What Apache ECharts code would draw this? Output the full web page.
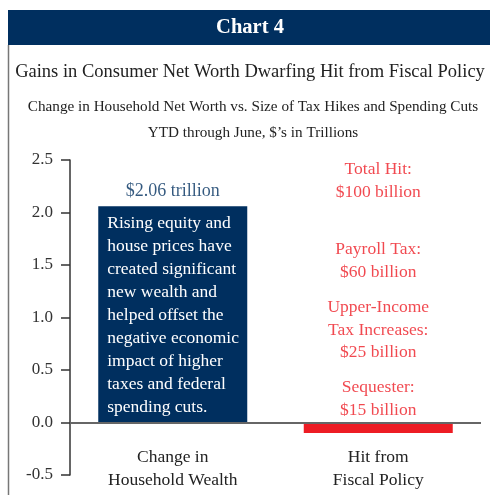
<!DOCTYPE html>
<html>
<head>
<meta charset="utf-8">
<script src="https://cdn.jsdelivr.net/npm/echarts@6/dist/echarts.min.js"></script>
<style>html,body{margin:0;padding:0;background:#fff;}#chart{width:490px;height:495px;}</style>
</head>
<body>
<div id="chart"></div>
<script>
const categories = ["Change in\nHousehold Wealth", "Hit from\nFiscal Policy"];
const values = [2.06, -0.1];
const valueLabel = "$2.06 trillion";
const barNote = "Rising equity and\nhouse prices have\ncreated significant\nnew wealth and\nhelped offset the\nnegative economic\nimpact of higher\ntaxes and federal\nspending cuts.";
const hitNotes = ["Total Hit:\n$100 billion", "Payroll Tax:\n$60 billion", "Upper-Income\nTax Increases:\n$25 billion", "Sequester:\n$15 billion"];
const hitNoteAnchors = [2.30, 1.54, 0.88, 0.225];
const yTicks = [-0.5, 0, 0.5, 1.0, 1.5, 2.0, 2.5];

const FONT = "'Liberation Serif', 'DejaVu Serif', serif";
const NAVY = "#002f5f";
const RED = "#ed1c24";

const chart = echarts.init(document.getElementById('chart'), null, {renderer: 'canvas'});
chart.setOption({
  animation: false,
  backgroundColor: '#fff',
  textStyle: {fontFamily: FONT},
  graphic: [
    {type: 'rect', shape: {x: 8, y: 10, width: 482, height: 35}, style: {fill: NAVY}},
    {type: 'text', style: {text: 'Chart 4', x: 250, y: 28, align: 'center', verticalAlign: 'middle', fill: '#fff', font: "bold 20.5px " + FONT}},
    {type: 'line', shape: {x1: 8.5, y1: 45, x2: 8.5, y2: 495}, style: {stroke: '#777', lineWidth: 1.5}}
  ],
  title: [
    {text: 'Gains in Consumer Net Worth Dwarfing Hit from Fiscal Policy', left: 245, textAlign: 'center', top: 58,
     textStyle: {fontFamily: FONT, fontSize: 18.5, fontWeight: 'normal', color: '#222'}},
    {text: 'Change in Household Net Worth vs. Size of Tax Hikes and Spending Cuts\nYTD through June, $\u2019s in Trillions', left: 248, textAlign: 'center', top: 89,
     textStyle: {fontFamily: FONT, fontSize: 15.2, fontWeight: 'normal', color: '#222', lineHeight: 26}}
  ],
  grid: {left: 70, right: 9, top: 160, bottom: 20, containLabel: false, outerBoundsMode: 'none'},
  xAxis: {
    type: 'category', data: categories,
    axisLine: {show: false, onZero: false},
    axisTick: {show: false},
    axisLabel: {fontFamily: FONT, fontSize: 17.5, color: '#222', lineHeight: 23, margin: -29, interval: 0}
  },
  yAxis: {
    type: 'value', min: yTicks[0], max: yTicks[yTicks.length - 1], interval: 0.5,
    axisLine: {show: true, onZero: false, lineStyle: {color: '#333', width: 1.5}},
    axisTick: {show: true, length: 9, lineStyle: {color: '#333', width: 1.5}},
    splitLine: {show: false},
    axisLabel: {fontFamily: FONT, fontSize: 17, color: '#333', margin: 17, formatter: v => v.toFixed(1)}
  },
  series: [
    {
      type: 'bar', barWidth: 149,
      data: values.map((v, i) => ({value: v, itemStyle: {color: i === 0 ? NAVY : RED},
        label: i === 0 ? {show: true, position: [9, 6], align: 'left', verticalAlign: 'top', formatter: barNote,
          color: '#fff', fontFamily: FONT, fontSize: 17.5, lineHeight: 23} : {show: false}})),
      markLine: {silent: true, symbol: 'none', label: {show: false},
        lineStyle: {color: '#666', width: 2, type: 'solid'}, data: [{yAxis: 0}]}
    },
    {
      type: 'scatter', symbolSize: 1, itemStyle: {color: 'transparent'}, silent: true,
      data: [[0, values[0]]],
      label: {show: true, position: 'top', distance: 5, formatter: valueLabel, color: NAVY, fontFamily: FONT, fontSize: 18}
    },
    {
      type: 'scatter', symbolSize: 1, itemStyle: {color: 'transparent'}, silent: true,
      data: hitNoteAnchors.map((y, i) => ({value: [1, y], name: hitNotes[i]})),
      label: {show: true, position: 'inside', formatter: p => p.name, color: RED, fontFamily: FONT, fontSize: 17.5, lineHeight: 22.5}
    }
  ]
});
</script>
</body>
</html>
